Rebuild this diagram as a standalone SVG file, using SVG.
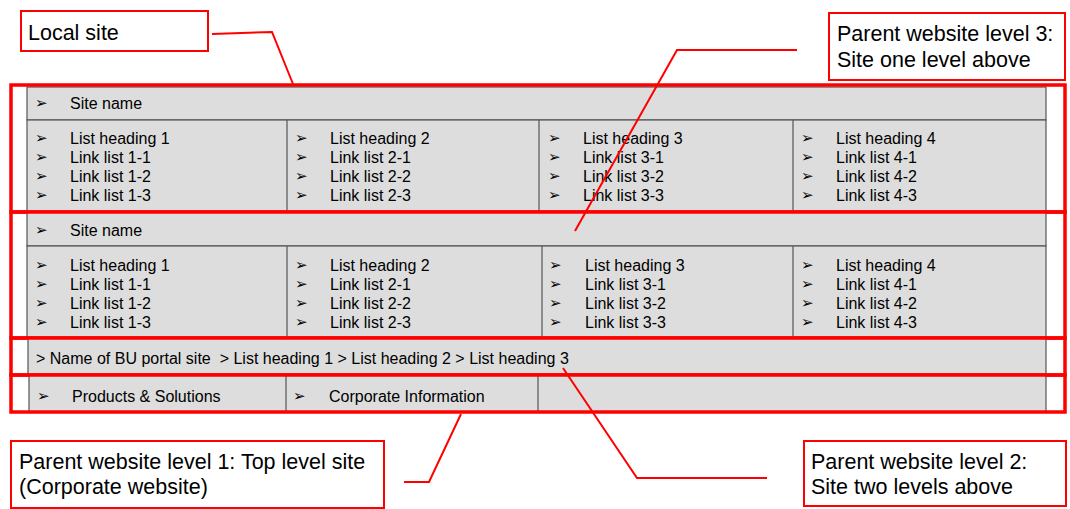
<svg xmlns="http://www.w3.org/2000/svg" width="1070" height="509" viewBox="0 0 1070 509">
<style>
.t{font-family:"Liberation Sans",Arial,sans-serif;font-size:16px;fill:#000;white-space:pre}
.a{font-family:"DejaVu Sans",sans-serif;font-size:15px;fill:#000}
.lbl{font-family:"Liberation Sans",Arial,sans-serif;font-size:21.5px;fill:#000}
.cell{fill:#dddddd;stroke:#555;stroke-width:1.2}
.div{stroke:#555;stroke-width:1.2;fill:none}
.rbox{fill:none;stroke:#ff0000;stroke-width:3.5}
.lbox{fill:#fff;stroke:#ff0000;stroke-width:2}
.lead{fill:none;stroke:#ff0000;stroke-width:2}
</style>
<rect width="1070" height="509" fill="#fff"/>
<g id="local-block">
<rect class="cell" x="27" y="87" width="1019" height="33"/>
<rect class="cell" x="27" y="120" width="1019" height="92"/>
<line class="div" x1="287" y1="120" x2="287" y2="212"/>
<line class="div" x1="539" y1="120" x2="539" y2="212"/>
<line class="div" x1="793" y1="120" x2="793" y2="212"/>
<text class="a" x="35" y="108">➢</text><text class="t" x="70" y="109">Site name</text>
<text class="a" x="35" y="143">➢</text><text class="t" x="70" y="144">List heading 1</text>
<text class="a" x="35" y="162">➢</text><text class="t" x="70" y="163">Link list 1-1</text>
<text class="a" x="35" y="181">➢</text><text class="t" x="70" y="182">Link list 1-2</text>
<text class="a" x="35" y="200">➢</text><text class="t" x="70" y="201">Link list 1-3</text>
<text class="a" x="295" y="143">➢</text><text class="t" x="330" y="144">List heading 2</text>
<text class="a" x="295" y="162">➢</text><text class="t" x="330" y="163">Link list 2-1</text>
<text class="a" x="295" y="181">➢</text><text class="t" x="330" y="182">Link list 2-2</text>
<text class="a" x="295" y="200">➢</text><text class="t" x="330" y="201">Link list 2-3</text>
<text class="a" x="548" y="143">➢</text><text class="t" x="583" y="144">List heading 3</text>
<text class="a" x="548" y="162">➢</text><text class="t" x="583" y="163">Link list 3-1</text>
<text class="a" x="548" y="181">➢</text><text class="t" x="583" y="182">Link list 3-2</text>
<text class="a" x="548" y="200">➢</text><text class="t" x="583" y="201">Link list 3-3</text>
<text class="a" x="801" y="143">➢</text><text class="t" x="836" y="144">List heading 4</text>
<text class="a" x="801" y="162">➢</text><text class="t" x="836" y="163">Link list 4-1</text>
<text class="a" x="801" y="181">➢</text><text class="t" x="836" y="182">Link list 4-2</text>
<text class="a" x="801" y="200">➢</text><text class="t" x="836" y="201">Link list 4-3</text>
<rect class="rbox" x="11" y="85" width="1054" height="127"/>
</g>
<g id="level3-block">
<rect class="cell" x="27" y="212" width="1019" height="34"/>
<rect class="cell" x="27" y="246" width="1019" height="92"/>
<line class="div" x1="287" y1="246" x2="287" y2="338"/>
<line class="div" x1="542" y1="246" x2="542" y2="338"/>
<line class="div" x1="793" y1="246" x2="793" y2="338"/>
<text class="a" x="35" y="235">➢</text><text class="t" x="70" y="236">Site name</text>
<text class="a" x="35" y="270">➢</text><text class="t" x="70" y="271">List heading 1</text>
<text class="a" x="35" y="289">➢</text><text class="t" x="70" y="290">Link list 1-1</text>
<text class="a" x="35" y="308">➢</text><text class="t" x="70" y="309">Link list 1-2</text>
<text class="a" x="35" y="327">➢</text><text class="t" x="70" y="328">Link list 1-3</text>
<text class="a" x="295" y="270">➢</text><text class="t" x="330" y="271">List heading 2</text>
<text class="a" x="295" y="289">➢</text><text class="t" x="330" y="290">Link list 2-1</text>
<text class="a" x="295" y="308">➢</text><text class="t" x="330" y="309">Link list 2-2</text>
<text class="a" x="295" y="327">➢</text><text class="t" x="330" y="328">Link list 2-3</text>
<text class="a" x="549" y="270">➢</text><text class="t" x="585" y="271">List heading 3</text>
<text class="a" x="549" y="289">➢</text><text class="t" x="585" y="290">Link list 3-1</text>
<text class="a" x="549" y="308">➢</text><text class="t" x="585" y="309">Link list 3-2</text>
<text class="a" x="549" y="327">➢</text><text class="t" x="585" y="328">Link list 3-3</text>
<text class="a" x="801" y="270">➢</text><text class="t" x="836" y="271">List heading 4</text>
<text class="a" x="801" y="289">➢</text><text class="t" x="836" y="290">Link list 4-1</text>
<text class="a" x="801" y="308">➢</text><text class="t" x="836" y="309">Link list 4-2</text>
<text class="a" x="801" y="327">➢</text><text class="t" x="836" y="328">Link list 4-3</text>
<rect class="rbox" x="11" y="212" width="1054" height="126"/>
</g>
<g id="level2-block">
<rect class="cell" x="28" y="338" width="1018" height="37"/>
<text class="t" x="36" y="364">&gt; Name of BU portal site  &gt; List heading 1 &gt; List heading 2 &gt; List heading 3</text>
<rect class="rbox" x="11" y="338" width="1054" height="37"/>
</g>
<g id="level1-block">
<rect class="cell" x="29" y="375" width="1017" height="37"/>
<line class="div" x1="286" y1="375" x2="286" y2="412"/>
<line class="div" x1="538" y1="375" x2="538" y2="412"/>
<text class="a" x="37" y="401">➢</text><text class="t" x="72" y="402">Products &amp; Solutions</text>
<text class="a" x="293" y="401">➢</text><text class="t" x="329" y="402">Corporate Information</text>
<rect class="rbox" x="11" y="375" width="1054" height="37"/>
</g>
<g id="connectors">
<polyline class="lead" points="212,34 272,32 293,84"/>
<polyline class="lead" points="797,50 677,50 575,231"/>
<polyline class="lead" points="404,482 429,482 461,414"/>
<polyline class="lead" points="563,368 637,478 767,478"/>
</g>
<g id="label-local">
<rect class="lbox" x="21" y="11" width="187" height="40"/>
<text class="lbl" x="28" y="40">Local site</text>
</g>
<g id="label-level3">
<rect class="lbox" x="829" y="13" width="236" height="67"/>
<text class="lbl" x="837" y="41">Parent website level 3:</text>
<text class="lbl" x="837" y="67">Site one level above</text>
</g>
<g id="label-level1">
<rect class="lbox" x="11" y="441" width="373" height="67"/>
<text class="lbl" x="19" y="469">Parent website level 1: Top level site</text>
<text class="lbl" x="19" y="494">(Corporate website)</text>
</g>
<g id="label-level2">
<rect class="lbox" x="804" y="441" width="262" height="65"/>
<text class="lbl" x="811" y="469">Parent website level 2:</text>
<text class="lbl" x="811" y="494">Site two levels above</text>
</g>
</svg>
